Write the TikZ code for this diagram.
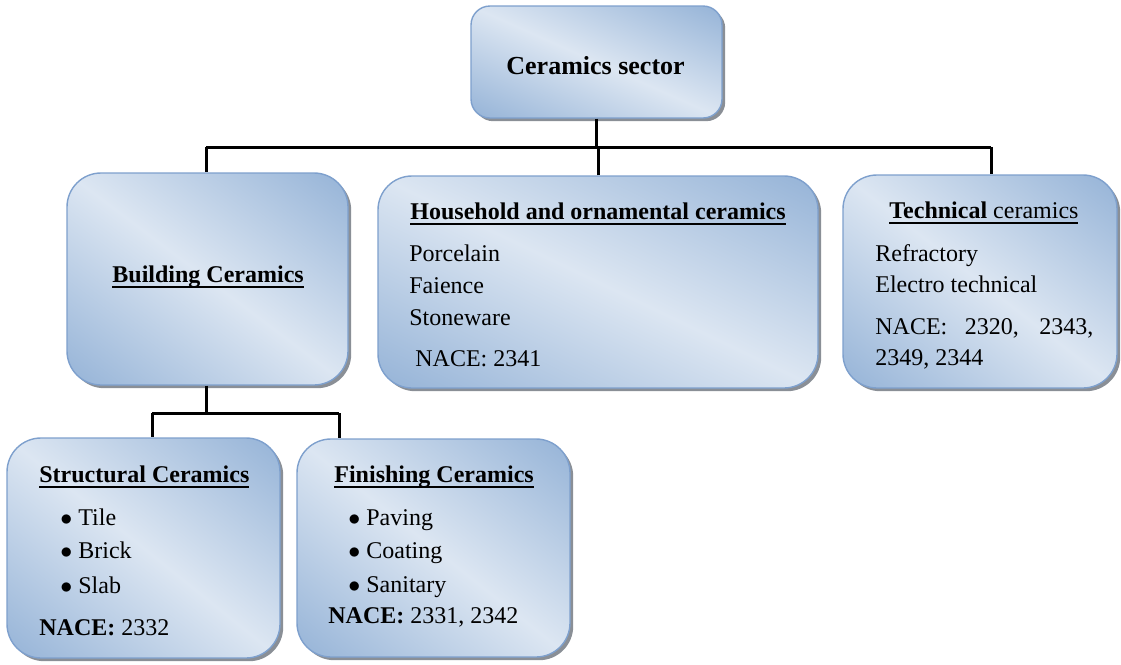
\documentclass[tikz,border=0pt]{standalone}
\usepackage{fontspec}
\setmainfont{Liberation Serif}
\usetikzlibrary{shadows}
\definecolor{bedge}{HTML}{7EA0CD}
\definecolor{shad}{HTML}{8A8F96}
\pgfdeclarefunctionalshading{boxshade}{\pgfpoint{0bp}{0bp}}{\pgfpoint{100bp}{100bp}}{}{
  add 100 sub 50 div abs dup 1 gt {pop 1} if
  dup -0.279 mul 0.863 add exch
  dup -0.200 mul 0.902 add exch
  -0.106 mul 0.949 add
}
\newcommand{\myul}[1]{\setbox0\hbox{#1}\rlap{\rule[-3pt]{\wd0}{1.1pt}}\box0}
\tikzset{
  box/.style={draw=bedge, line width=0.7pt, rounded corners=17pt, inner sep=0pt,
    shade, shading=boxshade,
    drop shadow={shadow xshift=1.6pt, shadow yshift=-1.6pt, fill=shad, opacity=1}},
  conn/.style={line width=1.5pt, black},
  txt/.style={anchor=base west, inner sep=0pt, font=\fontsize{12}{14}\selectfont},
}
\begin{document}
\begin{tikzpicture}[x=0.5pt,y=-0.5pt]
\useasboundingbox (0,0) rectangle (1121,665);
% boxes
\node[box, rounded corners=9.5pt, minimum width=125.5pt, minimum height=56pt] (top) at (596.5,62) {};
\node[box, minimum width=140.5pt, minimum height=106pt] (build) at (207.5,279) {};
\node[box, minimum width=220pt, minimum height=106pt] (house) at (598,282) {};
\node[box, minimum width=137pt, minimum height=106.5pt] (tech) at (980,281.5) {};
\node[box, minimum width=136.5pt, minimum height=110pt] (struct) at (143.5,548) {};
\node[box, minimum width=136.5pt, minimum height=109pt] (fin) at (433.5,548) {};
% connectors
\coordinate (bl) at (206,147);
\coordinate (br) at (991,147);
\coordinate (sl) at (152,413);
\coordinate (sr) at (339,413);
\draw[conn] (top.south) -- (top.south|-bl);
\draw[conn] (bl) -- (br);
\draw[conn] (bl) -- (bl|-build.north);
\draw[conn] (house.north) -- (house.north|-bl);
\draw[conn] (br) -- (br|-tech.north);
\draw[conn] (bl|-build.south) -- (bl|-sl);
\draw[conn] (sl) -- (sr);
\draw[conn] (sl) -- (sl|-struct.north);
\draw[conn] (sr) -- (sr|-fin.north);
% texts
\node[txt, font=\fontsize{13}{15}\selectfont\bfseries] (t0) at (506,74) {Ceramics sector};
\node[txt] (b0) at (112,282) {\myul{\textbf{Building Ceramics}}};
\node[txt] (h0) at (410,219) {\myul{\textbf{Household and ornamental ceramics}}};
\node[txt] (h1) at (409,261) {Porcelain};
\node[txt] (h2) at (409,293) {Faience};
\node[txt] (h3) at (409,325) {Stoneware};
\node[txt] (h4) at (415,366) {NACE: 2341};
\node[txt] (e0) at (889,218) {\myul{\textbf{Technical} ceramics}};
\node[txt] (e1) at (875,261) {Refractory};
\node[txt] (e2) at (875,292) {Electro technical};
\node[txt] (e3) at (875,334) {\makebox[109pt][s]{NACE: 2320, 2343,}};
\node[txt] (e4) at (875,365) {2349, 2344};
\node[txt] (s0) at (39,482) {\myul{\textbf{Structural Ceramics}}};
\node[txt] (s1) at (60,525) {$\bullet$\hspace{3pt}Tile};
\node[txt] (s2) at (60,558) {$\bullet$\hspace{3pt}Brick};
\node[txt] (s3) at (60,593) {$\bullet$\hspace{3pt}Slab};
\node[txt] (s4) at (39,635) {\textbf{NACE:} 2332};
\node[txt] (f0) at (334,482) {\myul{\textbf{Finishing Ceramics}}};
\node[txt] (f1) at (348,525) {$\bullet$\hspace{3pt}Paving};
\node[txt] (f2) at (348,558) {$\bullet$\hspace{3pt}Coating};
\node[txt] (f3) at (348,592) {$\bullet$\hspace{3pt}Sanitary};
\node[txt] (f4) at (328,623) {\textbf{NACE:} 2331, 2342};
\end{tikzpicture}
\end{document}
